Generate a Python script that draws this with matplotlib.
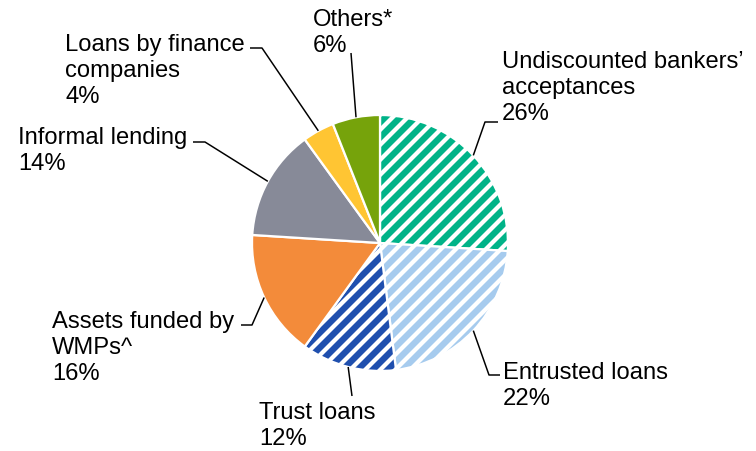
import numpy as np
import matplotlib
matplotlib.use("Agg")
import matplotlib.pyplot as plt

# shadow banking breakdown, share of total (%)
labels = ["Undiscounted bankers\u2019\nacceptances", "Entrusted loans", "Trust loans",
          "Assets funded by\nWMPs^", "Informal lending", "Loans by finance\ncompanies", "Others*"]
shares = [26, 22, 12, 16, 14, 4, 6]
colors = ["#00B388", "#A6CBEE", "#1F4FAE", "#F38B3A", "#878A98", "#FFC533", "#76A30B"]
hatched = [True, True, True, False, False, False, False]

W, H = 756, 451
plt.rcParams["font.family"] = ["Liberation Sans", "DejaVu Sans"]
plt.rcParams["hatch.linewidth"] = 3.4

fig = plt.figure(figsize=(W / 90, H / 90), dpi=90)
ax = fig.add_axes([0, 0, 1, 1])

def Y(py):
    # pixel rows counted from the top
    return H - py

cx, cy, r = 380, Y(243), 128
wedges, _ = ax.pie(shares, colors=colors, startangle=90, counterclock=False,
                   center=(cx, cy), radius=r,
                   wedgeprops=dict(edgecolor="white", linewidth=1.8))
for w, h in zip(wedges, hatched):
    if h:
        w.set_hatch("//")

# label anchor (left x, baseline of the last line) and leader line bends
text_pos = [(502, 120), (503, 405), (259, 445), (52, 380), (18, 170), (65, 103), (313, 52)]
bends = [
    [(485, 122), (498, 122)],
    [(489, 375), (500, 375)],
    [(352, 396)],
    [(252, 325), (241, 325)],
    [(205, 142), (193, 142)],
    [(262, 48), (250, 48)],
    [(351, 53)],
]

for w, lab, s, (tx, ty), pts in zip(wedges, labels, shares, text_pos, bends):
    mid = np.deg2rad((w.theta1 + w.theta2) / 2)
    x0 = cx + r * np.cos(mid)
    y0 = cy + r * np.sin(mid)
    xs = [x0] + [p[0] for p in pts]
    ys = [y0] + [Y(p[1]) for p in pts]
    ax.plot(xs, ys, color="black", linewidth=1.2, solid_capstyle="butt")
    ax.text(tx, Y(ty), f"{lab}\n{s}%", fontsize=19, ha="left", va="baseline",
            color="black", linespacing=1.23)

ax.set_xlim(0, W)
ax.set_ylim(0, H)
ax.set_aspect("equal")
ax.axis("off")

fig.savefig("out.png", dpi=90, facecolor="white")
